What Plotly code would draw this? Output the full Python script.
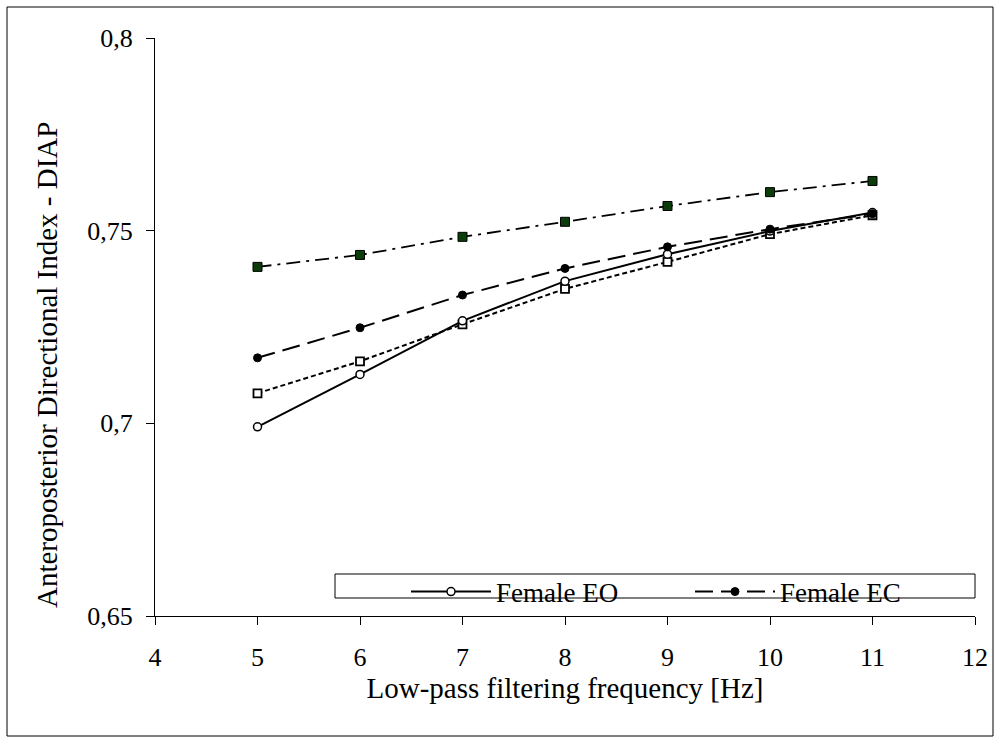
import plotly.graph_objects as go

freq = [5, 6, 7, 8, 9, 10, 11]
female_eo = [0.6991, 0.7127, 0.7266, 0.7369, 0.7439, 0.7499, 0.7547]
female_ec = [0.7170, 0.7248, 0.7333, 0.7402, 0.7458, 0.7504, 0.7544]
male_eo = [0.7078, 0.7161, 0.7257, 0.7349, 0.7419, 0.7491, 0.7540]
male_ec = [0.7406, 0.7437, 0.7484, 0.7523, 0.7564, 0.7600, 0.7629]

y_ticks = [0.65, 0.7, 0.75, 0.8]
y_labels = ["0,65", "0,7", "0,75", "0,8"]
x_ticks = [4, 5, 6, 7, 8, 9, 10, 11, 12]

FONT = "Palatino Linotype, Book Antiqua, Palatino, Liberation Serif, serif"

L, R, T, B = 155, 25, 38, 127
PW, PH = 1000 - L - R, 743 - T - B


def px_x(v):
    return (v - L) / PW


def px_y(v):
    return (743 - B - v) / PH


fig = go.Figure()
fig.add_trace(go.Scatter(
    x=freq, y=male_ec, mode="lines+markers", name="Male EC", showlegend=False,
    line=dict(color="black", width=1.8, dash="14px,6px,3px,6px"),
    marker=dict(symbol="square", size=9, color="#0b3d0b", line=dict(color="black", width=1))))
fig.add_trace(go.Scatter(
    x=freq, y=male_eo, mode="lines+markers", name="Male EO", showlegend=False,
    line=dict(color="black", width=2, dash="5px,3px"),
    marker=dict(symbol="square", size=8, color="white", line=dict(color="black", width=1.8))))
fig.add_trace(go.Scatter(
    x=freq, y=female_eo, mode="lines+markers", name="Female EO", legend="legend",
    line=dict(color="black", width=2),
    marker=dict(symbol="circle", size=8, color="white", line=dict(color="black", width=1.5))))
fig.add_trace(go.Scatter(
    x=freq, y=female_ec, mode="lines+markers", name="Female EC", legend="legend2",
    line=dict(color="black", width=2, dash="18px,8px"),
    marker=dict(symbol="circle", size=8, color="black", line=dict(color="black", width=1))))

legend_common = dict(orientation="h", yanchor="middle", xanchor="left",
                     bgcolor="rgba(0,0,0,0)", font=dict(size=27), itemwidth=80,
                     borderwidth=0)

fig.update_layout(
    width=1000, height=743,
    margin=dict(l=L, r=R, t=T, b=B),
    paper_bgcolor="white", plot_bgcolor="white",
    font=dict(family=FONT, size=24, color="black"),
    showlegend=True,
    legend=dict(x=px_x(406), y=px_y(592), **legend_common),
    legend2=dict(x=px_x(690), y=px_y(592), **legend_common),
    xaxis=dict(range=[4, 12], tickvals=x_ticks, showgrid=False, zeroline=False,
               showline=True, linecolor="black", linewidth=1, ticks="outside",
               ticklen=8, tickcolor="black", tickfont=dict(size=26),
               ticklabelstandoff=10,
               title=dict(text="Low-pass filtering frequency [Hz]", standoff=4)),
    yaxis=dict(range=[0.65, 0.8], tickvals=y_ticks, ticktext=y_labels, showgrid=False,
               zeroline=False, showline=True, linecolor="black", linewidth=1,
               ticks="outside", ticklen=8, tickcolor="black", tickfont=dict(size=26),
               ticklabelstandoff=8),
    annotations=[
        dict(text="Anteroposterior Directional Index - DIAP", textangle=-90,
             xref="paper", yref="paper", x=px_x(47), y=px_y(365),
             xanchor="center", yanchor="middle", showarrow=False,
             font=dict(family=FONT, size=29, color="black")),
    ],
    shapes=[
        dict(type="rect", xref="paper", yref="paper", x0=px_x(335), x1=px_x(975),
             y0=px_y(598), y1=px_y(574),
             line=dict(color="black", width=1), fillcolor="rgba(0,0,0,0)", layer="below"),
        dict(type="rect", xref="paper", yref="paper",
             x0=px_x(7), x1=px_x(993), y0=px_y(736), y1=px_y(7),
             line=dict(color="black", width=1), fillcolor="rgba(0,0,0,0)"),
    ],
)

fig.write_html("out.html", config={"displayModeBar": False},
               post_script="document.body.style.margin='0';document.body.style.overflow='hidden';")
